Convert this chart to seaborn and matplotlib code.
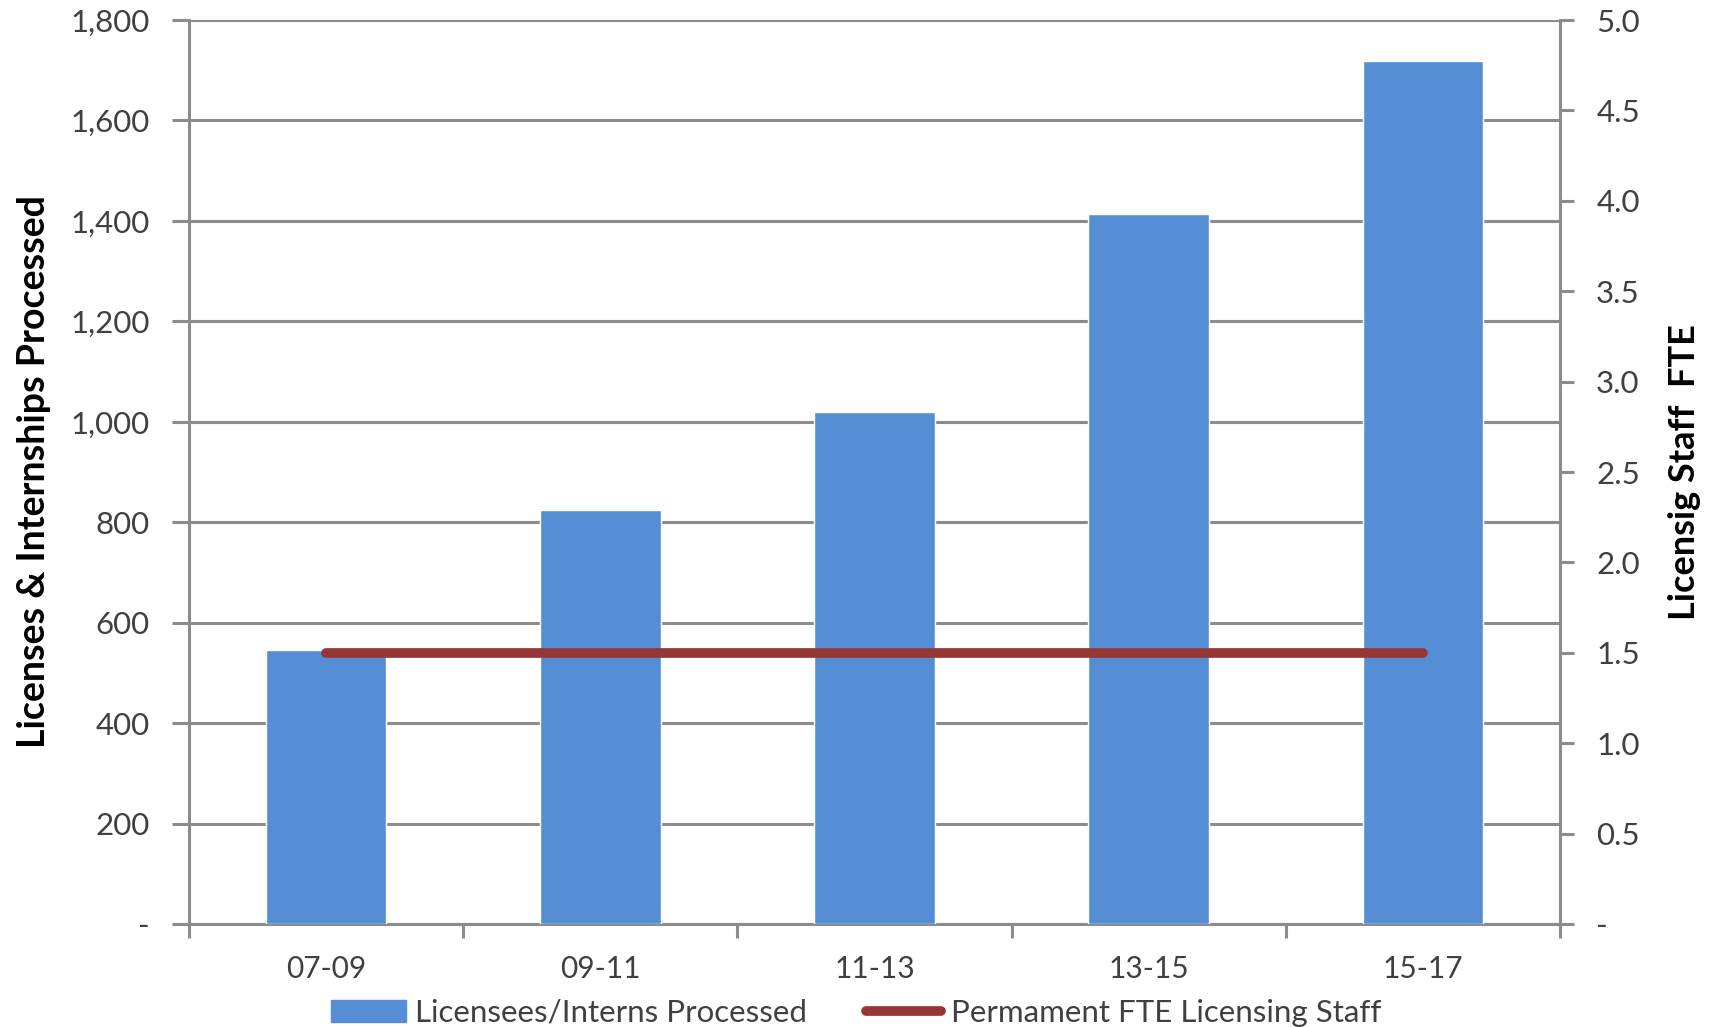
import numpy as np
import pandas as pd
import matplotlib
matplotlib.use("Agg")
import matplotlib.pyplot as plt
import seaborn as sns
from matplotlib.ticker import FuncFormatter, FixedLocator
from matplotlib.lines import Line2D
from matplotlib.patches import Patch

categories = ["07-09", "09-11", "11-13", "13-15", "15-17"]
processed = [546, 825, 1020, 1413, 1719]
fte_staff = [1.5, 1.5, 1.5, 1.5, 1.5]
bar_label = "Licensees/Interns Processed"
line_label = "Permament FTE Licensing Staff"
left_ticks = [0, 200, 400, 600, 800, 1000, 1200, 1400, 1600, 1800]
right_ticks = [0, 0.5, 1.0, 1.5, 2.0, 2.5, 3.0, 3.5, 4.0, 4.5, 5.0]

sns.set_theme(style="white")
plt.rcParams['font.family'] = ['Lato', 'DejaVu Sans']

BAR = "#558ED5"
LINE = "#953735"
GRID = "#8C8C8C"
TXT = "#404040"

fig = plt.figure(figsize=(17.17, 10.27), dpi=100)
ax = fig.add_axes([0.110, 0.1003, 0.7986, 0.8802])

df = pd.DataFrame({"cat": categories, "val": processed})
sns.barplot(data=df, x="cat", y="val", color=BAR, width=0.44, ax=ax,
            saturation=1, zorder=3)
ax.set_xlim(-0.5, len(categories) - 0.5)
ax.set_ylim(0, 1800)
ax.yaxis.set_major_locator(FixedLocator(left_ticks))
ax.yaxis.set_major_formatter(FuncFormatter(lambda v, p: "-" if v == 0 else f"{int(v):,}"))
ax.grid(axis="y", color=GRID, linewidth=2.2, zorder=0)
ax.set_axisbelow(True)
for s in ["top", "right"]:
    ax.spines[s].set_visible(False)
for s in ["left", "bottom"]:
    ax.spines[s].set_color(GRID)
    ax.spines[s].set_linewidth(2.2)
ax.tick_params(axis="y", which="major", left=True, length=12, width=2.2, color=GRID,
               labelsize=22.5, labelcolor=TXT, pad=16)
ax.tick_params(axis="x", which="major", bottom=False, labelsize=21.5, labelcolor=TXT, pad=16)
ax.set_xticks(np.arange(-0.5, len(categories), 1.0), minor=True)
ax.tick_params(axis="x", which="minor", bottom=True, length=10, width=2.2, color=GRID)
ax.set_xlabel("")
ax.set_ylabel("Licenses & Internships Processed", fontsize=27, fontweight="bold",
              color="black", labelpad=14)

ax2 = ax.twinx()
sns.lineplot(x=np.arange(len(categories)), y=fte_staff, ax=ax2, color=LINE,
             linewidth=7, solid_capstyle="round", zorder=4)
ax2.set_ylim(0, 5)
ax2.yaxis.set_major_locator(FixedLocator(right_ticks))
ax2.yaxis.set_major_formatter(FuncFormatter(lambda v, p: "-" if v == 0 else f"{v:.1f}"))
for s in ["top", "left", "bottom"]:
    ax2.spines[s].set_visible(False)
ax2.spines["right"].set_color(GRID)
ax2.spines["right"].set_linewidth(2.2)
ax2.tick_params(axis="y", right=True, length=10, width=2.2, color=GRID,
                labelsize=22.5, labelcolor=TXT, pad=16)
ax2.grid(False)
ax2.set_ylabel("Licensig Staff  FTE", fontsize=26, fontweight="bold",
               color="black", labelpad=20)

handles = [Patch(facecolor=BAR, edgecolor=BAR),
           Line2D([0], [0], color=LINE, linewidth=7, solid_capstyle="round")]
fig.legend(handles, [bar_label, line_label], loc="lower center",
           bbox_to_anchor=(0.4985, -0.027), ncol=2, frameon=False, fontsize=22.5,
           labelcolor=TXT, handlelength=2.4, handleheight=0.7, handletextpad=0.3,
           columnspacing=1.9)

fig.savefig("out.png", dpi=100)
